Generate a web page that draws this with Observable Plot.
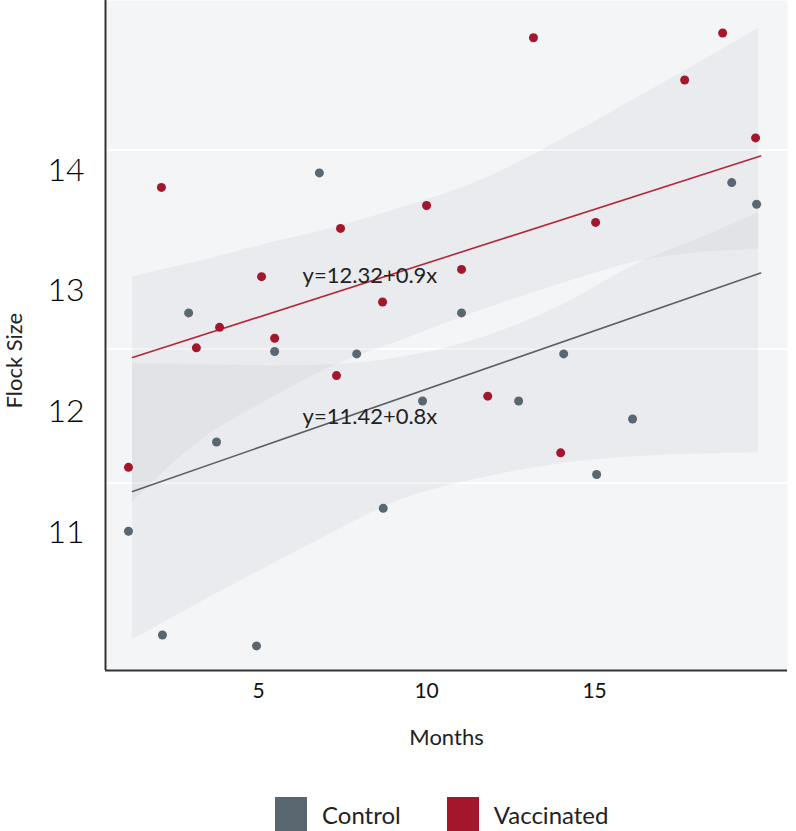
<!DOCTYPE html>
<html><head><meta charset="utf-8">
<script src="https://cdn.jsdelivr.net/npm/d3@7"></script>
<script src="https://cdn.jsdelivr.net/npm/@observablehq/plot@0.6"></script>
<style>
body{margin:0;background:#fff;font-family:Lato,"Open Sans",sans-serif;}
#wrap{position:relative;width:796px;height:831px;overflow:hidden;}
#legend{position:absolute;top:797px;left:275px;display:flex;align-items:center;}
.item{display:flex;align-items:center;}
.item:first-child{margin-right:46px;}
.sw{width:32px;height:34px;margin-right:15px;}
.lab{font-size:24px;color:#222;}
</style></head><body><div id="wrap"><div id="chart"></div><div id="legend"></div></div>
<script>
// Series names / colours
const seriesNames = ["Control", "Vaccinated"];
const seriesColors = ["#5b6770", "#a3162b"];
const lineColors = ["#5a5f66", "#b3283a"];

// Control points
const ctrlX = [1.13, 2.14, 2.92, 3.75, 4.94, 5.48, 6.81, 7.92, 8.71, 9.88, 11.04, 12.74, 14.08, 15.06, 16.13, 19.08, 19.82];
const ctrlY = [11.01, 10.15, 12.82, 11.75, 10.06, 12.50, 13.98, 12.48, 11.20, 12.09, 12.82, 12.09, 12.48, 11.48, 11.94, 13.90, 13.72];

// Vaccinated points
const vacX = [1.13, 2.11, 3.15, 3.84, 5.09, 5.48, 7.32, 7.44, 8.69, 10.0, 11.04, 11.82, 13.18, 13.99, 15.03, 17.68, 18.81, 19.79];
const vacY = [11.54, 13.86, 12.53, 12.70, 13.12, 12.61, 12.30, 13.52, 12.91, 13.71, 13.18, 12.13, 15.10, 11.66, 13.57, 14.75, 15.14, 14.27];

// Fitted lines (endpoints)
const fitX = [1.25, 19.94];
const ctrlFit = [11.34, 13.15];
const vacFit = [12.45, 14.12];

// Confidence bands
const bandX = [1.25, 3.27, 5.36, 7.14, 9.23, 11.61, 13.99, 16.37, 18.15, 19.88];
const vacUpper = [13.12, 13.25, 13.40, 13.52, 13.69, 13.92, 14.25, 14.62, 14.90, 15.18];
const vacLower = [11.25, 11.76, 12.11, 12.37, 12.59, 12.84, 13.06, 13.25, 13.32, 13.35];
const ctrlUpper = [12.40, 12.39, 12.38, 12.39, 12.45, 12.61, 12.88, 13.24, 13.44, 13.65];
const ctrlLower = [10.11, 10.42, 10.73, 10.99, 11.27, 11.45, 11.57, 11.63, 11.65, 11.66];

// Equation labels
const eqText = ["y=12.32+0.9x", "y=11.42+0.8x"];
const eqX = [6.31, 6.31];
const eqY = [13.13, 11.96];

// Faint white grid lines
const gridY = [14.17, 12.52, 11.41];

// Axes
const xTicks = [5, 10, 15];
const yTicks = [11, 12, 13, 14];
const xDomain = [0.446, 20.74];
const yDomain = [9.856, 15.409];
const xLabel = "Months";
const yLabel = "Flock Size";

const ctrl = ctrlX.map((x, i) => ({x, y: ctrlY[i]}));
const vac = vacX.map((x, i) => ({x, y: vacY[i]}));
const band = bandX.map((x, i) => ({x, vu: vacUpper[i], vl: vacLower[i], cu: ctrlUpper[i], cl: ctrlLower[i]}));
const fit = fitX.map((x, i) => ({x, c: ctrlFit[i], v: vacFit[i]}));
const eq = eqText.map((t, i) => ({t, x: eqX[i], y: eqY[i]}));

const chart = Plot.plot({
  width: 796, height: 770,
  marginLeft: 105, marginRight: 9, marginTop: 0, marginBottom: 100,
  style: {fontFamily: "Lato, 'Open Sans', sans-serif", color: "#222", background: "transparent"},
  x: {domain: xDomain},
  y: {domain: yDomain},
  marks: [
    Plot.frame({fill: "#f4f5f7", stroke: null}),
    Plot.ruleY(gridY, {stroke: "#ffffff", strokeWidth: 2}),
    Plot.areaY(band, {x: "x", y1: "vl", y2: "vu", fill: "#c5cad0", fillOpacity: 0.22, curve: "monotone-x"}),
    Plot.areaY(band, {x: "x", y1: "cl", y2: "cu", fill: "#c5cad0", fillOpacity: 0.22, curve: "monotone-x"}),
    Plot.line(fit, {x: "x", y: "v", stroke: lineColors[1], strokeWidth: 1.6}),
    Plot.line(fit, {x: "x", y: "c", stroke: lineColors[0], strokeWidth: 1.6}),
    Plot.dot(ctrl, {x: "x", y: "y", r: 4.5, fill: seriesColors[0]}),
    Plot.dot(vac, {x: "x", y: "y", r: 4.5, fill: seriesColors[1]}),
    Plot.text(eq, {x: "x", y: "y", text: "t", textAnchor: "start", fontSize: 22, fill: "#222"}),
    Plot.ruleX([xDomain[0]], {stroke: "#333", strokeWidth: 2}),
    Plot.ruleY([yDomain[0]], {stroke: "#333", strokeWidth: 2}),
    Plot.axisX({ticks: xTicks, tickSize: 0, tickPadding: 13, fontSize: 21, label: null, fill: "#111"}),
    Plot.axisY({ticks: yTicks, tickFormat: d3.format("d"), tickSize: 0, tickPadding: 21, fontSize: 32, fontWeight: 300, fill: "#000", label: null}),
    Plot.text([xLabel], {frameAnchor: "bottom", dy: 67, lineAnchor: "middle", fontSize: 22, fill: "#222"}),
    Plot.text([yLabel], {frameAnchor: "left", dx: -91, dy: 73, rotate: -90, lineAnchor: "middle", fontSize: 22, fill: "#222"})
  ]
});
document.getElementById("chart").appendChild(chart);

const leg = document.getElementById("legend");
seriesNames.forEach((n, i) => {
  const it = document.createElement("div"); it.className = "item";
  const sw = document.createElement("div"); sw.className = "sw"; sw.style.background = seriesColors[i];
  const lb = document.createElement("span"); lb.className = "lab"; lb.textContent = n;
  it.appendChild(sw); it.appendChild(lb); leg.appendChild(it);
});
</script>
</body></html>
